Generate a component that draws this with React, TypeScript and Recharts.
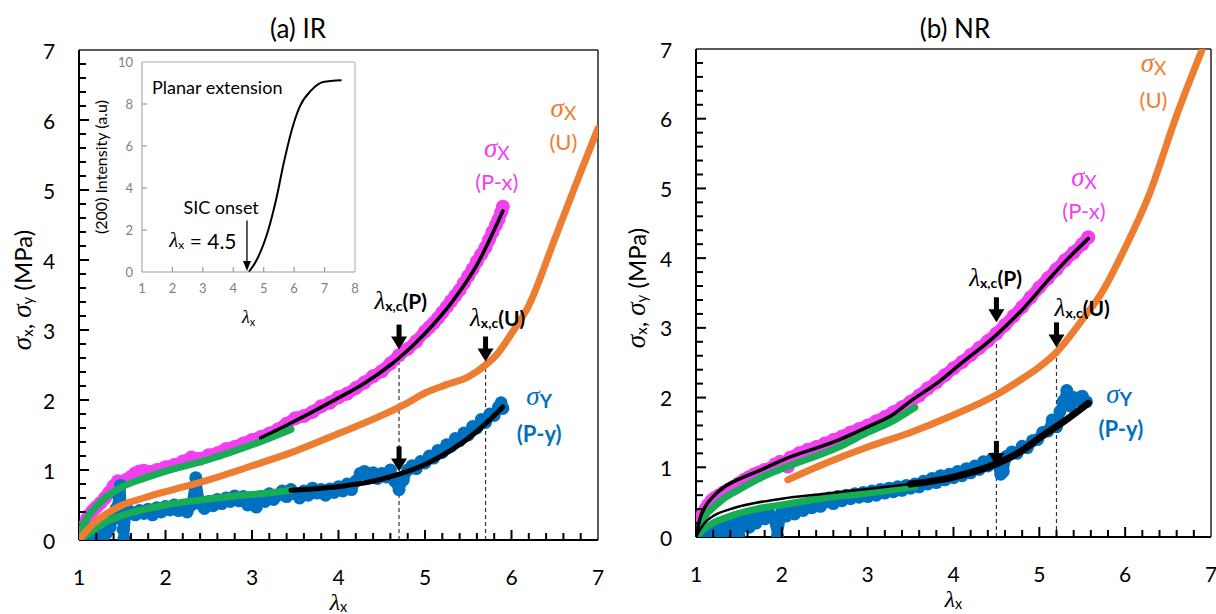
import React from "react";
import {
  ComposedChart,
  Line,
  XAxis,
  YAxis,
  ReferenceLine,
  ReferenceDot,
} from "recharts";

// ---------------- data ----------------
const xTicks = [1, 1.2, 1.4, 1.6, 1.8, 2, 2.2, 2.4, 2.6, 2.8, 3, 3.2, 3.4, 3.6, 3.8, 4, 4.2, 4.4, 4.6, 4.8, 5, 5.2, 5.4, 5.6, 5.8, 6, 6.2, 6.4, 6.6, 6.8, 7];
const yTicks = [0, 0.2, 0.4, 0.6, 0.8, 1, 1.2, 1.4, 1.6, 1.8, 2, 2.2, 2.4, 2.6, 2.8, 3, 3.2, 3.4, 3.6, 3.8, 4, 4.2, 4.4, 4.6, 4.8, 5, 5.2, 5.4, 5.6, 5.8, 6, 6.2, 6.4, 6.6, 6.8, 7];
const insetXTicks = [1, 2, 3, 4, 5, 6, 7, 8];
const insetYTicks = [0, 2, 4, 6, 8, 10];

// Panel (a) IR
const magentaA = [[1.0, 0.02], [1.03, 0.1], [1.06, 0.2], [1.09, 0.3], [1.12, 0.36], [1.16, 0.42], [1.2, 0.47], [1.25, 0.53], [1.3, 0.6], [1.35, 0.68], [1.4, 0.77], [1.45, 0.84], [1.5, 0.83], [1.55, 0.86], [1.6, 0.9], [1.65, 0.95], [1.7, 0.98], [1.75, 0.99], [1.8, 0.97], [1.9, 1.0], [2.0, 1.04], [2.1, 1.07], [2.2, 1.12], [2.3, 1.18], [2.4, 1.16], [2.5, 1.21], [2.6, 1.24], [2.7, 1.3], [2.8, 1.33], [2.9, 1.38], [3.0, 1.43], [3.1, 1.47], [3.2, 1.52], [3.3, 1.58], [3.4, 1.66], [3.5, 1.74], [3.6, 1.77], [3.7, 1.83], [3.8, 1.91], [3.9, 1.96], [4.0, 2.04], [4.1, 2.09], [4.2, 2.17], [4.3, 2.25], [4.4, 2.34], [4.5, 2.41], [4.6, 2.52], [4.7, 2.64], [4.8, 2.73], [4.9, 2.84], [5.0, 2.98], [5.05, 3.04], [5.1, 3.1], [5.15, 3.17], [5.2, 3.25], [5.25, 3.33], [5.3, 3.41], [5.35, 3.49], [5.4, 3.57], [5.45, 3.67], [5.5, 3.77], [5.55, 3.87], [5.6, 3.98], [5.65, 4.08], [5.7, 4.18], [5.74, 4.29], [5.78, 4.4], [5.82, 4.5], [5.85, 4.58], [5.88, 4.68], [5.9, 4.76]];
const blueA = [[1.0, 0.0], [1.02, 0.12], [1.04, 0.04], [1.06, 0.18], [1.08, 0.02], [1.1, 0.1], [1.13, 0.0], [1.16, 0.06], [1.2, 0.02], [1.24, 0.08], [1.28, 0.04], [1.32, 0.1], [1.36, 0.18], [1.4, 0.3], [1.43, 0.45], [1.46, 0.62], [1.48, 0.78], [1.5, 0.3], [1.51, 0.15], [1.52, 0.02], [1.55, 0.45], [1.6, 0.4], [1.65, 0.36], [1.7, 0.42], [1.75, 0.38], [1.8, 0.44], [1.85, 0.36], [1.9, 0.46], [1.95, 0.4], [2.0, 0.48], [2.05, 0.43], [2.1, 0.5], [2.15, 0.42], [2.2, 0.47], [2.25, 0.4], [2.3, 0.5], [2.35, 0.89], [2.4, 0.52], [2.45, 0.45], [2.5, 0.55], [2.55, 0.49], [2.6, 0.58], [2.65, 0.52], [2.7, 0.6], [2.75, 0.55], [2.8, 0.63], [2.85, 0.56], [2.9, 0.62], [2.95, 0.5], [3.0, 0.6], [3.05, 0.47], [3.1, 0.62], [3.15, 0.55], [3.2, 0.66], [3.25, 0.58], [3.3, 0.64], [3.35, 0.7], [3.4, 0.62], [3.45, 0.72], [3.5, 0.66], [3.55, 0.6], [3.6, 0.7], [3.65, 0.64], [3.7, 0.74], [3.75, 0.67], [3.8, 0.72], [3.85, 0.64], [3.9, 0.73], [3.95, 0.68], [4.0, 0.76], [4.05, 0.7], [4.1, 0.8], [4.15, 0.72], [4.2, 0.84], [4.25, 0.95], [4.3, 0.98], [4.35, 0.9], [4.4, 0.96], [4.45, 0.88], [4.5, 0.95], [4.55, 0.9], [4.6, 1.0], [4.65, 0.84], [4.7, 0.72], [4.75, 0.86], [4.8, 1.0], [4.85, 1.06], [4.9, 1.02], [4.95, 1.12], [5.0, 1.1], [5.05, 1.2], [5.1, 1.17], [5.15, 1.28], [5.2, 1.25], [5.25, 1.36], [5.3, 1.34], [5.35, 1.45], [5.4, 1.42], [5.45, 1.53], [5.5, 1.5], [5.55, 1.62], [5.6, 1.6], [5.65, 1.72], [5.7, 1.68], [5.75, 1.8], [5.8, 1.78], [5.85, 1.9], [5.88, 1.96], [5.9, 1.88]];
const orangeA = [[1.0, 0], [1.05, 0.08], [1.1, 0.15], [1.2, 0.27], [1.35, 0.4], [1.5, 0.5], [1.75, 0.6], [2.0, 0.69], [2.5, 0.86], [3.0, 1.06], [3.5, 1.27], [4.0, 1.52], [4.5, 1.78], [4.8, 1.96], [5.0, 2.1], [5.25, 2.22], [5.5, 2.33], [5.7, 2.5], [5.85, 2.68], [6.0, 2.95], [6.2, 3.35], [6.5, 4.3], [6.75, 5.1], [7.0, 5.88]];
const greenA1 = [[1.0, 0], [1.05, 0.22], [1.1, 0.33], [1.2, 0.48], [1.3, 0.6], [1.4, 0.69], [1.5, 0.76], [1.75, 0.88], [2.0, 0.98], [2.5, 1.15], [3.0, 1.36], [3.45, 1.58]];
const greenA2 = [[1.0, 0], [1.1, 0.08], [1.2, 0.17], [1.3, 0.25], [1.45, 0.33], [1.6, 0.39], [1.8, 0.45], [2.0, 0.5], [2.4, 0.57], [2.8, 0.63], [3.1, 0.66], [3.45, 0.71]];
const blackA1 = [[3.1, 1.46], [3.4, 1.64], [3.7, 1.83], [4.0, 2.03], [4.3, 2.24], [4.6, 2.5], [4.7, 2.6], [5.0, 2.95], [5.3, 3.38], [5.6, 3.93], [5.9, 4.7]];
const blackA2 = [[3.45, 0.71], [3.8, 0.74], [4.1, 0.78], [4.4, 0.84], [4.7, 0.94], [5.0, 1.08], [5.3, 1.28], [5.6, 1.55], [5.9, 1.9]];
const arrowsA = [[4.7, 2.72], [5.7, 2.55], [4.7, 0.98]];
const dashesA = [[4.7, 2.65], [5.7, 2.5]];

// Panel (b) NR
const magentaB = [[1.0, 0.0], [1.02, 0.08], [1.04, 0.18], [1.06, 0.26], [1.08, 0.33], [1.11, 0.4], [1.14, 0.46], [1.18, 0.52], [1.22, 0.56], [1.27, 0.6], [1.32, 0.64], [1.38, 0.68], [1.44, 0.72], [1.5, 0.77], [1.56, 0.82], [1.62, 0.86], [1.68, 0.9], [1.74, 0.93], [1.8, 0.96], [1.86, 0.98], [1.92, 1.04], [1.98, 1.08], [2.03, 1.03], [2.07, 1.01], [2.1, 1.14], [2.2, 1.2], [2.3, 1.25], [2.4, 1.29], [2.5, 1.34], [2.6, 1.39], [2.7, 1.44], [2.8, 1.5], [2.9, 1.55], [3.0, 1.6], [3.1, 1.66], [3.2, 1.72], [3.3, 1.79], [3.4, 1.86], [3.5, 1.94], [3.6, 2.03], [3.7, 2.13], [3.8, 2.22], [3.9, 2.32], [4.0, 2.42], [4.1, 2.51], [4.2, 2.61], [4.3, 2.71], [4.4, 2.81], [4.5, 2.92], [4.6, 3.04], [4.7, 3.17], [4.8, 3.3], [4.9, 3.44], [5.0, 3.58], [5.1, 3.71], [5.2, 3.84], [5.3, 3.97], [5.4, 4.08], [5.5, 4.2], [5.57, 4.3]];
const blueB = [[1.0, 0.0], [1.03, 0.06], [1.06, 0.14], [1.09, 0.02], [1.12, 0.1], [1.15, 0.0], [1.18, 0.06], [1.22, 0.16], [1.26, 0.02], [1.3, 0.12], [1.34, 0.22], [1.38, 0.04], [1.42, 0.18], [1.46, 0.28], [1.5, 0.02], [1.54, 0.24], [1.58, 0.3], [1.62, 0.14], [1.66, 0.26], [1.7, 0.2], [1.75, 0.32], [1.8, 0.26], [1.85, 0.34], [1.9, 0.28], [1.95, 0.02], [2.0, 0.36], [2.05, 0.3], [2.1, 0.4], [2.15, 0.33], [2.2, 0.45], [2.25, 0.38], [2.3, 0.48], [2.35, 0.42], [2.4, 0.52], [2.45, 0.44], [2.5, 0.5], [2.55, 0.56], [2.6, 0.48], [2.65, 0.58], [2.7, 0.52], [2.75, 0.6], [2.8, 0.55], [2.85, 0.62], [2.9, 0.57], [2.95, 0.64], [3.0, 0.58], [3.05, 0.66], [3.1, 0.6], [3.15, 0.68], [3.2, 0.63], [3.25, 0.7], [3.3, 0.65], [3.35, 0.72], [3.4, 0.67], [3.45, 0.74], [3.5, 0.7], [3.55, 0.76], [3.6, 0.72], [3.65, 0.8], [3.7, 0.76], [3.75, 0.84], [3.8, 0.78], [3.85, 0.88], [3.9, 0.82], [3.95, 0.9], [4.0, 0.85], [4.05, 0.94], [4.1, 0.88], [4.15, 0.98], [4.2, 0.92], [4.25, 1.02], [4.3, 0.97], [4.35, 1.08], [4.4, 1.02], [4.45, 1.12], [4.5, 1.06], [4.55, 0.9], [4.58, 0.94], [4.62, 1.16], [4.68, 1.22], [4.74, 1.2], [4.8, 1.3], [4.86, 1.28], [4.92, 1.38], [4.98, 1.4], [5.04, 1.5], [5.1, 1.52], [5.15, 1.68], [5.2, 1.58], [5.24, 1.8], [5.28, 1.95], [5.32, 2.1], [5.36, 1.88], [5.4, 2.0], [5.45, 1.96], [5.5, 2.02], [5.55, 1.94]];
const orangeB = [[2.07, 0.82], [2.4, 1.0], [2.7, 1.15], [3.0, 1.29], [3.5, 1.5], [4.0, 1.75], [4.5, 2.04], [4.8, 2.27], [5.0, 2.44], [5.2, 2.65], [5.4, 2.95], [5.55, 3.2], [5.7, 3.45], [6.0, 4.15], [6.27, 4.88], [6.6, 6.05], [6.9, 7.0]];
const greenB1 = [[1.0, 0], [1.1, 0.3], [1.2, 0.42], [1.32, 0.55], [1.5, 0.68], [1.77, 0.86], [2.0, 0.98], [2.68, 1.3], [3.0, 1.5], [3.3, 1.67], [3.55, 1.86]];
const greenB2 = [[1.0, 0], [1.1, 0.12], [1.2, 0.2], [1.4, 0.3], [1.7, 0.4], [2.0, 0.46], [2.5, 0.56], [3.0, 0.63], [3.55, 0.72]];
const blackB1 = [[1.0, 0], [1.05, 0.28], [1.1, 0.42], [1.2, 0.58], [1.32, 0.71], [1.5, 0.83], [1.77, 0.97], [2.0, 1.1], [2.68, 1.4], [3.0, 1.58], [3.3, 1.76], [3.5, 1.95], [3.8, 2.2], [4.1, 2.5], [4.5, 2.9], [4.8, 3.26], [5.1, 3.68], [5.3, 3.95], [5.57, 4.28]];
const blackB2 = [[1.0, 0], [1.1, 0.2], [1.2, 0.3], [1.4, 0.4], [1.7, 0.49], [2.0, 0.55], [2.5, 0.62], [3.0, 0.69], [3.5, 0.76]];
const blackB3 = [[3.5, 0.76], [4.0, 0.86], [4.5, 1.05], [4.8, 1.24], [5.0, 1.42], [5.3, 1.67], [5.57, 1.92]];
const arrowsB = [[4.5, 3.08], [5.2, 2.72], [4.5, 1.02]];
const dashesB = [[4.5, 3.0], [5.2, 2.65]];

// Inset (200) intensity
const insetCurve = [[4.51, 0], [4.76, 0.55], [5.15, 2.0], [5.4, 3.4], [5.66, 5.2], [5.92, 6.75], [6.18, 7.86], [6.56, 8.65], [6.95, 9.05], [7.56, 9.13]];

// label anchor positions (data units)
const labelsA = { lamP: [4.72, 3.43], lamU: [5.84, 3.19], sxP: [5.83, 5.6], pxP: [5.83, 5.12], sxU: [6.6, 6.17], uU: [6.6, 5.69], sy: [6.32, 2.06], py: [6.32, 1.52] };
const labelsB = { lamP: [4.49, 3.73], lamU: [5.5, 3.3], sxP: [5.52, 5.17], pxP: [5.52, 4.68], sxU: [6.33, 6.8], uU: [6.33, 6.28], sy: [5.93, 2.05], py: [5.95, 1.56] };

// ---------------- style ----------------
const FONT = "Lato, 'Open Sans', 'DejaVu Sans', sans-serif";
const SERIF = "'Liberation Serif', 'DejaVu Serif', serif";
const MAGENTA = "#F23FF0";
const BLUE = "#0070C0";
const ORANGE = "#ED7D31";
const GREEN = "#16AD55";

const pts = (a: number[][]) => a.map(([x, y]) => ({ x, y }));
const isMajor = (v: number) => Math.abs(v - Math.round(v)) < 1e-6;

const makeXTick = (labelOffset: number) => (props: any) => {
  const { x, y, payload } = props;
  const v = payload.value;
  if (!isMajor(v)) return <g />;
  return (
    <text x={x} y={y + labelOffset} textAnchor="middle" dominantBaseline="central" fontSize={21} fontFamily={FONT} fill="#000">
      {v}
    </text>
  );
};

const makeYTick = (labelOffset: number) => (props: any) => {
  const { x, y, payload } = props;
  const v = payload.value;
  if (!isMajor(v)) return <g />;
  return (
    <text x={x - labelOffset} y={y} textAnchor="middle" dominantBaseline="central" fontSize={21} fontFamily={FONT} fill="#000">
      {v}
    </text>
  );
};

const dotShape = (color: string, r: number) => (p: any) => (
  <circle key={`${p.index}-${p.cx}`} cx={p.cx} cy={p.cy} r={r} fill={color} stroke="none" />
);

const ArrowDown = (p: any) => {
  const { cx, cy } = p;
  return (
    <g>
      <rect x={cx - 2.5} y={cy - 25} width={5} height={13} fill="#000" />
      <path d={`M${cx - 8},${cy - 13} L${cx + 8},${cy - 13} L${cx},${cy} Z`} fill="#000" />
    </g>
  );
};

const sigmaLabel = (color: string, sub: string, bold: boolean) => (p: any) => (
  <text x={p.cx} y={p.cy} textAnchor="middle" dominantBaseline="central" fill={color} fontFamily={FONT}>
    <tspan fontFamily={SERIF} fontStyle="italic" fontSize={27}>σ</tspan>
    <tspan fontSize={19} fontWeight={bold ? 700 : 400} dy={4}>{sub}</tspan>
  </text>
);

const plainLabel = (color: string, txt: string, bold: boolean) => (p: any) => (
  <text x={p.cx} y={p.cy} textAnchor="middle" dominantBaseline="central" fill={color} fontFamily={FONT} fontSize={22} fontWeight={bold ? 700 : 400}>
    {txt}
  </text>
);

const lambdaLabel = (tail: string) => (p: any) => (
  <text x={p.cx} y={p.cy} textAnchor="middle" dominantBaseline="central" fill="#000" fontFamily={FONT}>
    <tspan fontFamily={SERIF} fontStyle="italic" fontSize={25}>λ</tspan>
    <tspan fontSize={14} fontWeight={700} dy={5}>x,c</tspan>
    <tspan fontSize={21} fontWeight={700} dy={-5}>{tail}</tspan>
  </text>
);

const yLabelContent = (dx: number) => (props: any) => {
  const vb = props.viewBox;
  const cx = vb.x + dx;
  const cy = vb.y + vb.height / 2 - 5;
  return (
    <text transform={`translate(${cx},${cy}) rotate(-90)`} textAnchor="middle" dominantBaseline="central" fontFamily={FONT} fontSize={24} fill="#000">
      <tspan fontFamily={SERIF} fontStyle="italic" fontSize={27}>σ</tspan>
      <tspan fontSize={15} dy={5}>x</tspan>
      <tspan dy={-5}>, </tspan>
      <tspan fontFamily={SERIF} fontStyle="italic" fontSize={27}>σ</tspan>
      <tspan fontSize={15} dy={5}>y</tspan>
      <tspan dy={-5}> (MPa)</tspan>
    </text>
  );
};

const xLabelContent = (dy: number, size: number) => (props: any) => {
  const vb = props.viewBox;
  return (
    <text x={vb.x + vb.width / 2} y={vb.y + dy} textAnchor="middle" dominantBaseline="central" fontFamily={FONT} fill="#000">
      <tspan fontFamily={SERIF} fontStyle="italic" fontSize={size}>λ</tspan>
      <tspan fontSize={size * 0.6} dy={4}>x</tspan>
    </text>
  );
};

type Margin = { top: number; right: number; left: number; bottom: number };
type PanelProps = {
  width: number;
  height: number;
  margin: Margin;
  yAxisWidth: number;
  xAxisHeight: number;
  yLabelDx: number;
  magenta: number[][];
  blue: number[][];
  orange: number[][];
  greens: number[][][];
  blacks: { d: number[][]; w: number }[];
  arrows: number[][];
  dashes: number[][];
  labels: { [k: string]: number[] };
};

// bottom layer: axes, frame, guide lines, measured data bands
function PanelBase(p: PanelProps) {
  return (
    <ComposedChart width={p.width} height={p.height} margin={p.margin}>
      <XAxis
        type="number"
        dataKey="x"
        domain={[1, 7]}
        ticks={xTicks}
        interval={0}
        allowDataOverflow
        height={p.xAxisHeight}
        tickSize={0}
        tickMargin={0}
        tickLine={false}
        axisLine={{ stroke: "#000", strokeWidth: 2 }}
        tick={makeXTick(36)}
        label={{ content: xLabelContent(62, 24) }}
      />
      <YAxis
        type="number"
        dataKey="y"
        domain={[0, 7]}
        ticks={yTicks}
        interval={0}
        allowDataOverflow
        width={p.yAxisWidth}
        tickSize={0}
        tickMargin={0}
        tickLine={false}
        axisLine={{ stroke: "#000", strokeWidth: 2 }}
        tick={makeYTick(30)}
        label={{ content: yLabelContent(p.yLabelDx) }}
      />
      <ReferenceLine y={7} stroke="#222" strokeWidth={1.5} />
      <ReferenceLine x={7} stroke="#222" strokeWidth={1.5} />
      {p.dashes.map(([x, y], i) => (
        <ReferenceLine key={"d" + i} segment={[{ x, y: 0 }, { x, y }]} stroke="#333" strokeWidth={1.2} strokeDasharray="4 3" />
      ))}
      <Line data={pts(p.magenta)} dataKey="y" type="linear" stroke={MAGENTA} strokeWidth={12} strokeLinejoin="round" dot={dotShape(MAGENTA, 7)} isAnimationActive={false} />
      <Line data={pts(p.blue)} dataKey="y" type="linear" stroke={BLUE} strokeWidth={10} strokeLinejoin="round" dot={dotShape(BLUE, 6.5)} isAnimationActive={false} />
    </ComposedChart>
  );
}

// top layer: inward tick marks, fitted / model curves, arrows and annotations (same scales)
function PanelTop(p: PanelProps) {
  const L = p.labels;
  const m = { top: p.margin.top, right: p.margin.right, left: p.margin.left + p.yAxisWidth, bottom: p.margin.bottom + p.xAxisHeight };
  const plotW = p.width - m.left - m.right;
  const plotH = p.height - m.top - m.bottom;
  const dxPx = 6 / plotW;
  const dyPx = 7 / plotH;
  const xMarks = xTicks.filter((v) => v > 1.01 && v < 6.99);
  const yMarks = yTicks.filter((v) => v > 0.01 && v < 6.99);
  return (
    <ComposedChart width={p.width} height={p.height} margin={m}>
      <XAxis type="number" dataKey="x" domain={[1, 7]} allowDataOverflow hide />
      <YAxis type="number" dataKey="y" domain={[0, 7]} allowDataOverflow hide />
      {xMarks.map((v) => (
        <Line key={"xt" + v} data={[{ x: v, y: 0 }, { x: v, y: (isMajor(v) ? 10 : 7) * dyPx }]} dataKey="y" type="linear" stroke="#000" strokeWidth={2} dot={false} isAnimationActive={false} />
      ))}
      {yMarks.map((v) => (
        <Line key={"yt" + v} data={[{ x: 1, y: v }, { x: 1 + (isMajor(v) ? 10 : 7) * dxPx, y: v }]} dataKey="y" type="linear" stroke="#000" strokeWidth={2} dot={false} isAnimationActive={false} />
      ))}
      {p.greens.map((g, i) => (
        <Line key={"g" + i} data={pts(g)} dataKey="y" type="monotone" stroke={GREEN} strokeWidth={7} dot={false} strokeLinecap="round" isAnimationActive={false} />
      ))}
      <Line data={pts(p.orange)} dataKey="y" type="monotone" stroke={ORANGE} strokeWidth={7} dot={false} strokeLinecap="round" isAnimationActive={false} />
      {p.blacks.map((b, i) => (
        <Line key={"b" + i} data={pts(b.d)} dataKey="y" type="monotone" stroke="#000" strokeWidth={b.w} dot={false} strokeLinecap="round" isAnimationActive={false} />
      ))}
      {p.arrows.map(([x, y], i) => (
        <ReferenceDot key={"a" + i} x={x} y={y} r={0} ifOverflow="visible" shape={ArrowDown} />
      ))}
      <ReferenceDot x={L.lamP[0]} y={L.lamP[1]} r={0} ifOverflow="visible" shape={lambdaLabel("(P)")} />
      <ReferenceDot x={L.lamU[0]} y={L.lamU[1]} r={0} ifOverflow="visible" shape={lambdaLabel("(U)")} />
      <ReferenceDot x={L.sxP[0]} y={L.sxP[1]} r={0} ifOverflow="visible" shape={sigmaLabel(MAGENTA, "X", false)} />
      <ReferenceDot x={L.pxP[0]} y={L.pxP[1]} r={0} ifOverflow="visible" shape={plainLabel(MAGENTA, "(P-x)", false)} />
      <ReferenceDot x={L.sxU[0]} y={L.sxU[1]} r={0} ifOverflow="visible" shape={sigmaLabel(ORANGE, "X", false)} />
      <ReferenceDot x={L.uU[0]} y={L.uU[1]} r={0} ifOverflow="visible" shape={plainLabel(ORANGE, "(U)", false)} />
      <ReferenceDot x={L.sy[0]} y={L.sy[1]} r={0} ifOverflow="visible" shape={sigmaLabel(BLUE, "Y", true)} />
      <ReferenceDot x={L.py[0]} y={L.py[1]} r={0} ifOverflow="visible" shape={plainLabel(BLUE, "(P-y)", true)} />
    </ComposedChart>
  );
}

function Panel(p: PanelProps & { left: number }) {
  return (
    <>
      <div style={{ position: "absolute", left: p.left, top: 0 }}>
        <PanelBase {...p} />
      </div>
      <div style={{ position: "absolute", left: p.left, top: 0 }}>
        <PanelTop {...p} />
      </div>
    </>
  );
}

const insetText = (txt: string, anchor: string, size: number) => (p: any) => (
  <text x={p.cx} y={p.cy} textAnchor={anchor} dominantBaseline="central" fontFamily={FONT} fontSize={size} fill="#000">
    {txt}
  </text>
);

const insetLambda = (p: any) => (
  <text x={p.cx} y={p.cy} textAnchor="middle" dominantBaseline="central" fontFamily={FONT} fontSize={21} fill="#000">
    <tspan fontFamily={SERIF} fontStyle="italic">λ</tspan>
    <tspan fontSize={12} dy={4}>x</tspan>
    <tspan dy={-4}> = 4.5</tspan>
  </text>
);

const insetHead = (p: any) => (
  <path d={`M${p.cx - 4},${p.cy - 10} L${p.cx + 4},${p.cy - 10} L${p.cx},${p.cy} Z`} fill="#000" />
);

const insetYLabel = (props: any) => {
  const vb = props.viewBox;
  return (
    <text transform={`translate(${vb.x - 20},${vb.y + vb.height / 2}) rotate(-90)`} textAnchor="middle" dominantBaseline="central" fontFamily={FONT} fontSize={16} fill="#000">
      (200) Intensity (a.u)
    </text>
  );
};

function Inset() {
  const plotW = 380 - 120 - 25 - 22;
  const plotH = 330 - 62 - 58;
  const dxPx = 7 / plotW;
  const dyPx = 10 / plotH;
  return (
    <ComposedChart width={380} height={330} margin={{ top: 62, right: 25, left: 120, bottom: 0 }}>
      <XAxis
        type="number"
        dataKey="x"
        domain={[1, 8]}
        ticks={insetXTicks}
        interval={0}
        allowDataOverflow
        height={58}
        tickSize={0}
        tickMargin={12}
        tickLine={false}
        axisLine={{ stroke: "#999", strokeWidth: 1 }}
        tick={{ fontSize: 13, fill: "#7f7f7f", fontFamily: FONT }}
        label={{ content: xLabelContent(45, 18) }}
      />
      <YAxis
        type="number"
        dataKey="y"
        domain={[0, 10]}
        ticks={insetYTicks}
        interval={0}
        allowDataOverflow
        width={22}
        tickSize={0}
        tickMargin={9}
        tickLine={false}
        axisLine={{ stroke: "#999", strokeWidth: 1 }}
        tick={{ fontSize: 13, fill: "#7f7f7f", fontFamily: FONT }}
        label={{ content: insetYLabel }}
      />
      <ReferenceLine y={10} stroke="#aaa" strokeWidth={1} />
      <ReferenceLine x={8} stroke="#aaa" strokeWidth={1} />
      {insetXTicks.filter((v) => v > 1 && v < 8).map((v) => (
        <Line key={"ixt" + v} data={[{ x: v, y: 0 }, { x: v, y: 5 * dyPx }]} dataKey="y" type="linear" stroke="#999" strokeWidth={1.2} dot={false} isAnimationActive={false} />
      ))}
      {insetYTicks.filter((v) => v > 0 && v < 10).map((v) => (
        <Line key={"iyt" + v} data={[{ x: 1, y: v }, { x: 1 + 5 * dxPx, y: v }]} dataKey="y" type="linear" stroke="#999" strokeWidth={1.2} dot={false} isAnimationActive={false} />
      ))}
      <Line data={pts(insetCurve)} dataKey="y" type="monotone" stroke="#000" strokeWidth={2} dot={false} isAnimationActive={false} />
      <ReferenceLine segment={[{ x: 4.45, y: 2.45 }, { x: 4.45, y: 0.5 }]} stroke="#000" strokeWidth={1.3} />
      <ReferenceDot x={4.45} y={0.05} r={0} ifOverflow="visible" shape={insetHead} />
      <ReferenceDot x={1.33} y={8.81} r={0} ifOverflow="visible" shape={insetText("Planar extension", "start", 18)} />
      <ReferenceDot x={3.6} y={3.1} r={0} ifOverflow="visible" shape={insetText("SIC onset", "middle", 18)} />
      <ReferenceDot x={3.0} y={1.52} r={0} ifOverflow="visible" shape={insetLambda} />
    </ComposedChart>
  );
}

const titleStyle: React.CSSProperties = {
  position: "absolute",
  top: 13,
  width: 200,
  textAlign: "center",
  fontFamily: FONT,
  fontSize: 26,
  lineHeight: "30px",
  color: "#000",
};

export default function App() {
  return (
    <div style={{ position: "absolute", left: 0, top: 0, width: 1216, height: 614, background: "#fff", overflow: "hidden" }}>
      <div style={{ ...titleStyle, left: 298 - 100 }}>(a) IR</div>
      <div style={{ ...titleStyle, left: 955 - 100 }}>(b) NR</div>
      <Panel
        left={0}
        width={610}
        height={614}
        margin={{ top: 50, right: 12, left: 0, bottom: 0 }}
        yAxisWidth={79}
        xAxisHeight={74}
        yLabelDx={22}
        magenta={magentaA}
        blue={blueA}
        orange={orangeA}
        greens={[greenA1, greenA2]}
        blacks={[{ d: blackA1, w: 3.5 }, { d: blackA2, w: 5 }]}
        arrows={arrowsA}
        dashes={dashesA}
        labels={labelsA}
      />
      <div style={{ position: "absolute", left: 0, top: 0 }}>
        <Inset />
      </div>
      <Panel
        left={610}
        width={606}
        height={614}
        margin={{ top: 49, right: 5, left: 0, bottom: 0 }}
        yAxisWidth={86}
        xAxisHeight={77}
        yLabelDx={26}
        magenta={magentaB}
        blue={blueB}
        orange={orangeB}
        greens={[greenB1, greenB2]}
        blacks={[{ d: blackB1, w: 3.5 }, { d: blackB2, w: 2.5 }, { d: blackB3, w: 7 }]}
        arrows={arrowsB}
        dashes={dashesB}
        labels={labelsB}
      />
    </div>
  );
}
